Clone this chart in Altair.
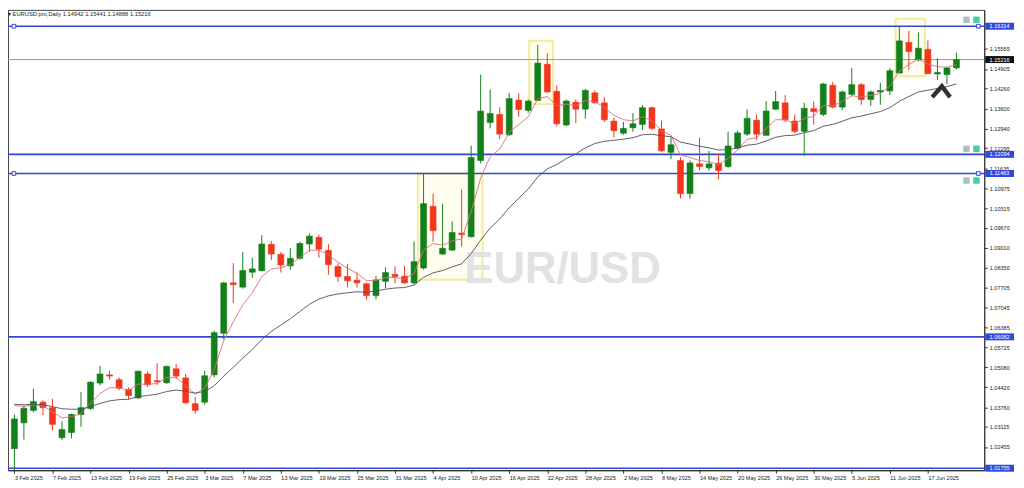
import altair as alt
import pandas as pd

# ---------------- data ----------------
dates = [d.strftime('%-d %b %Y') for d in pd.bdate_range('2025-02-03', periods=100)]

opens = [1.0240, 1.0325, 1.0366, 1.0393, 1.0375, 1.0276, 1.0293, 1.0352, 1.0372, 1.0456,
         1.0483, 1.0467, 1.0435, 1.0407, 1.0486, 1.0464, 1.0457, 1.0503, 1.0473, 1.0388,
         1.0393, 1.0483, 1.0620, 1.0786, 1.0772, 1.0821, 1.0826, 1.0913, 1.0880, 1.0842,
         1.0867, 1.0914, 1.0936, 1.0893, 1.0840, 1.0807, 1.0795, 1.0783, 1.0744, 1.0791,
         1.0814, 1.0808, 1.0786, 1.0835, 1.1038, 1.0881, 1.0894, 1.0950, 1.0938, 1.1189,
         1.1314, 1.1341, 1.1274, 1.1388, 1.1354, 1.1387, 1.1506, 1.1417, 1.1306, 1.1381,
         1.1358, 1.1412, 1.1379, 1.1319, 1.1279, 1.1297, 1.1308, 1.1363, 1.1293, 1.1216,
         1.1189, 1.1080, 1.1178, 1.1165, 1.1180, 1.1169, 1.1230, 1.1276, 1.1322, 1.1272,
         1.1358, 1.1379, 1.1319, 1.1285, 1.1360, 1.1341, 1.1437, 1.1365, 1.1407, 1.1439,
         1.1390, 1.1415, 1.1418, 1.1477, 1.1578, 1.1521, 1.1555, 1.1474, 1.1472, 1.14942]
highs = [1.0352, 1.0382, 1.0437, 1.0399, 1.0404, 1.0330, 1.0355, 1.0426, 1.0462, 1.0513,
         1.0497, 1.0475, 1.0442, 1.0497, 1.0494, 1.0521, 1.0513, 1.0519, 1.0486, 1.0410,
         1.0497, 1.0628, 1.0790, 1.0851, 1.0888, 1.0869, 1.0943, 1.0924, 1.0888, 1.0901,
         1.0921, 1.0949, 1.0945, 1.0913, 1.0851, 1.0849, 1.0820, 1.0787, 1.0809, 1.0837,
         1.0841, 1.0842, 1.0922, 1.1146, 1.1080, 1.1047, 1.0989, 1.1093, 1.1238, 1.1472,
         1.1423, 1.1365, 1.1411, 1.1411, 1.1390, 1.1570, 1.1542, 1.1436, 1.1390, 1.1390,
         1.1425, 1.1420, 1.1399, 1.1330, 1.1316, 1.1345, 1.1372, 1.1367, 1.1321, 1.1265,
         1.1200, 1.1189, 1.1265, 1.1221, 1.1211, 1.1284, 1.1287, 1.1358, 1.1341, 1.1385,
         1.1418, 1.1405, 1.1341, 1.1379, 1.1383, 1.1445, 1.1448, 1.1420, 1.1494, 1.1445,
         1.1420, 1.1445, 1.1494, 1.1630, 1.1616, 1.1611, 1.1585, 1.1526, 1.1497, 1.15441]
lows = [1.0141, 1.0270, 1.0360, 1.0350, 1.0301, 1.0268, 1.0274, 1.0312, 1.0368, 1.0448,
        1.0467, 1.0432, 1.0402, 1.0404, 1.0443, 1.0450, 1.0453, 1.0470, 1.0388, 1.0355,
        1.0386, 1.0475, 1.0600, 1.0720, 1.0767, 1.0803, 1.0824, 1.0861, 1.0820, 1.0829,
        1.0862, 1.0889, 1.0868, 1.0813, 1.0789, 1.0771, 1.0771, 1.0731, 1.0731, 1.0768,
        1.0785, 1.0783, 1.0780, 1.0830, 1.0922, 1.0878, 1.0891, 1.0905, 1.0936, 1.1180,
        1.1295, 1.1260, 1.1269, 1.1333, 1.1346, 1.1385, 1.1412, 1.1302, 1.1302, 1.1312,
        1.1327, 1.1377, 1.1316, 1.1265, 1.1274, 1.1284, 1.1290, 1.1288, 1.1216, 1.1194,
        1.1063, 1.1063, 1.1156, 1.1156, 1.1128, 1.1165, 1.1226, 1.1270, 1.1256, 1.1272,
        1.1356, 1.1316, 1.1278, 1.1205, 1.1307, 1.1335, 1.1360, 1.1356, 1.1401, 1.1373,
        1.1369, 1.1373, 1.1405, 1.1477, 1.1488, 1.1515, 1.1474, 1.1455, 1.1440, 1.14888]
closes = [1.0338, 1.0373, 1.0395, 1.0375, 1.0320, 1.0303, 1.0353, 1.0375, 1.0459, 1.0486,
          1.0479, 1.0439, 1.0415, 1.0495, 1.0450, 1.0460, 1.0511, 1.0479, 1.0391, 1.0366,
          1.0480, 1.0622, 1.0786, 1.0780, 1.0827, 1.0832, 1.0914, 1.0881, 1.0845, 1.0867,
          1.0916, 1.0940, 1.0897, 1.0846, 1.0807, 1.0793, 1.0786, 1.0744, 1.0796, 1.0820,
          1.0807, 1.0786, 1.0856, 1.1047, 1.0958, 1.0900, 1.0952, 1.0945, 1.1199, 1.1352,
          1.1344, 1.1276, 1.1393, 1.1357, 1.1385, 1.1510, 1.1415, 1.1310, 1.1385, 1.1358,
          1.1420, 1.1379, 1.1323, 1.1287, 1.1295, 1.1310, 1.1363, 1.1295, 1.1221, 1.1241,
          1.1080, 1.1181, 1.1169, 1.1178, 1.1156, 1.1237, 1.1280, 1.1328, 1.1276, 1.1352,
          1.1383, 1.1323, 1.1285, 1.1361, 1.1350, 1.1441, 1.1365, 1.1415, 1.1439, 1.1390,
          1.1415, 1.1420, 1.1485, 1.1583, 1.1548, 1.1559, 1.1475, 1.1479, 1.1494, 1.15216]

y_ticks = [1.16885, 1.15565, 1.14905, 1.14260, 1.13600, 1.12940, 1.12295, 1.11635,
           1.10975, 1.10315, 1.09670, 1.09010, 1.08350, 1.07705, 1.07045, 1.06385, 1.05725,
           1.05080, 1.04420, 1.03760, 1.03115, 1.02455]
x_tick_index = list(range(0, 97, 4))

level_prices = [1.16314, 1.12094, 1.11463, 1.06082, 1.01755]
handle_prices = [1.16314, 1.11463]

ema_fast_period, ema_slow_period = 5, 20
ema_fast_seed, ema_slow_seed = 1.0382, 1.0386

box_x0 = [42.4, 54.1, 92.6]
box_x1 = [49.2, 56.6, 95.7]
box_p0 = [1.07964, 1.13748, 1.14663]
box_p1 = [1.11460, 1.15839, 1.16558]

arrow_idx = [96.45, 97.47, 98.33]
arrow_price = [1.13977, 1.14336, 1.13977]

icon_idx = [100.05, 101.1]
icon_price = [1.16526, 1.12277, 1.11231]

watermark = 'EUR/USD'
watermark_idx, watermark_price = 57.6, 1.0829

GREEN = '#13801a'
RED = '#f2361c'
BLUE = '#3347d6'
FONT = 'Liberation Sans'

# ---------------- tables ----------------
def ema(vals, period, seed):
    a = 2.0 / (period + 1)
    out = [seed]
    for v in vals[1:]:
        out.append(out[-1] + a * (v - out[-1]))
    return out

candles = pd.DataFrame({
    'i': list(range(len(closes))), 'open': opens, 'high': highs, 'low': lows,
    'close': closes, 'date': dates,
})
candles['dir'] = ['up' if c >= o else 'down' for o, c in zip(opens, closes)]
candles['ema_fast'] = ema(closes, ema_fast_period, ema_fast_seed)
candles['ema_slow'] = ema(closes, ema_slow_period, ema_slow_seed)

X_LO, X_HI = -0.15, 101.4
Y_LO, Y_HI = 1.01689, 1.16852
xs = alt.Scale(domain=[X_LO, X_HI], nice=False, zero=False)
ys = alt.Scale(domain=[Y_LO, Y_HI], nice=False, zero=False)

labels_js = '[' + ','.join("'%s'" % dates[k] for k in x_tick_index) + ']'
x_axis = alt.Axis(values=x_tick_index, labelExpr=labels_js + '[round(datum.value/4)]',
                  title=None, grid=False, labelAlign='left', labelFontSize=5.6, labelFont=FONT,
                  labelColor='#222', labelPadding=2, tickSize=3, tickColor='#333',
                  domainColor='#222', labelFlush=False, labelOverlap=False, labelBound=False)
y_axis = alt.Axis(values=y_ticks, format='.5f', orient='right', title=None, grid=False,
                  labelFontSize=5.6, labelFont=FONT, labelColor='#222', labelPadding=2,
                  tickSize=3, tickColor='#333', domainColor='#333', labelOverlap=False,
                  labelFlush=False)


def X(field):
    return alt.X(field, scale=xs, axis=x_axis)


def Y(field):
    return alt.Y(field, scale=ys, axis=y_axis)


color = alt.Color('dir:N', scale=alt.Scale(domain=['up', 'down'], range=[GREEN, RED]), legend=None)

boxes_df = pd.DataFrame({'x0': box_x0, 'x1': box_x1, 'p0': box_p0, 'p1': box_p1})
boxes = alt.Chart(boxes_df).mark_rect(fill='#fffbe6', fillOpacity=0.6, stroke='#f2ec9a',
                                      strokeWidth=2).encode(
    x=X('x0:Q'), x2='x1:Q', y=Y('p0:Q'), y2='p1:Q')

wm = alt.Chart(pd.DataFrame({'t': [watermark], 'i': [watermark_idx], 'p': [watermark_price]})).mark_text(
    font=FONT, fontSize=44, fontWeight='bold', color='#e2e2e2', align='center', baseline='middle'
).encode(x=X('i:Q'), y=Y('p:Q'), text='t:N')

levels_df = pd.DataFrame({'p': level_prices})
levels = alt.Chart(levels_df).mark_rule(color=BLUE, strokeWidth=1.6).encode(y=Y('p:Q'))

cur_df = pd.DataFrame({'p': [closes[-1]], 't': ['%.5f' % closes[-1]]})
cur_rule = alt.Chart(cur_df).mark_rule(color='#9a9a9a', strokeWidth=1).encode(y=Y('p:Q'))

wicks = alt.Chart(candles).mark_rule(strokeWidth=1, clip=True).encode(
    x=X('i:Q'), y=Y('low:Q'), y2='high:Q', color=color)

bodies = alt.Chart(candles).mark_bar(size=6, strokeWidth=0.6).encode(
    x=X('i:Q'), y=Y('open:Q'), y2='close:Q', color=color, stroke=color)

ema_fast_line = alt.Chart(candles).mark_line(color='#d9707a', strokeWidth=0.9, clip=True).encode(
    x=X('i:Q'), y=Y('ema_fast:Q'))
ema_slow_line = alt.Chart(candles).mark_line(color='#4e4e60', strokeWidth=0.9, clip=True).encode(
    x=X('i:Q'), y=Y('ema_slow:Q'))

arrow = alt.Chart(pd.DataFrame({'i': arrow_idx, 'p': arrow_price, 'o': [0, 1, 2]})).mark_line(
    color='#2f2f2f', strokeWidth=4.4, strokeJoin='miter', strokeCap='butt').encode(
    x=X('i:Q'), y=Y('p:Q'), order='o:Q')

hd = pd.DataFrame({'i': [X_LO + 0.1] * len(handle_prices) + [X_HI - 0.1] * len(handle_prices),
                   'p': handle_prices * 2})
handles = alt.Chart(hd).mark_square(size=14, fill='white', stroke=BLUE, strokeWidth=1,
                                    opacity=1).encode(x=X('i:Q'), y=Y('p:Q'))

icon_a = pd.DataFrame({'i': [icon_idx[0]] * len(icon_price), 'p': icon_price})
icon_b = pd.DataFrame({'i': [icon_idx[1]] * len(icon_price), 'p': icon_price})
icons_a = alt.Chart(icon_a).mark_square(size=42, opacity=1, color='#aebfc3').encode(
    x=X('i:Q'), y=Y('p:Q'))
icons_b = alt.Chart(icon_b).mark_square(size=42, opacity=1, color='#43cf9e').encode(
    x=X('i:Q'), y=Y('p:Q'))

lab_df = pd.DataFrame({'p': level_prices, 't': ['%.5f' % p for p in level_prices]})
lab_df['lo'] = lab_df['p'] - 0.00115
lab_df['hi'] = lab_df['p'] + 0.00115
lab_box = alt.Chart(lab_df).mark_rect(color='#2f49e0', clip=False).encode(
    x=alt.value(985), x2=alt.value(1014), y=Y('lo:Q'), y2='hi:Q')
lab_txt = alt.Chart(lab_df).mark_text(color='white', font=FONT, fontSize=5.6, align='center',
                                      baseline='middle', clip=False).encode(
    x=alt.value(999.5), y=Y('p:Q'), text='t:N')

cur_df['lo'] = cur_df['p'] - 0.00115
cur_df['hi'] = cur_df['p'] + 0.00115
cur_box = alt.Chart(cur_df).mark_rect(color='#111111', clip=False).encode(
    x=alt.value(985), x2=alt.value(1014), y=Y('lo:Q'), y2='hi:Q')
cur_txt = alt.Chart(cur_df).mark_text(color='white', font=FONT, fontSize=5.6, align='center',
                                      baseline='middle', clip=False).encode(
    x=alt.value(999.5), y=Y('p:Q'), text='t:N')

header_text = '\u25be EURUSD.pro,Daily  %.5f %.5f %.5f %.5f' % (opens[-1], highs[-1], lows[-1], closes[-1])
header = alt.Chart(pd.DataFrame({'t': [header_text]})).mark_text(
    font=FONT, fontSize=5.8, color='#222', align='left', baseline='middle').encode(
    x=alt.value(0), y=alt.value(4), text='t:N')

chart = alt.layer(
    boxes, wm, levels, cur_rule, wicks, bodies, ema_fast_line, ema_slow_line, arrow,
    handles, icons_a, icons_b, lab_box, lab_txt, cur_box, cur_txt, header
).properties(
    width=984, height=464,
    autosize=alt.AutoSizeParams(type='none'),
    padding={'left': 0, 'top': 0, 'right': 32, 'bottom': 14},
    background='white'
).configure_view(stroke='#444', strokeWidth=1)

chart.save('out.html', embed_options={'renderer': 'svg', 'actions': False})
